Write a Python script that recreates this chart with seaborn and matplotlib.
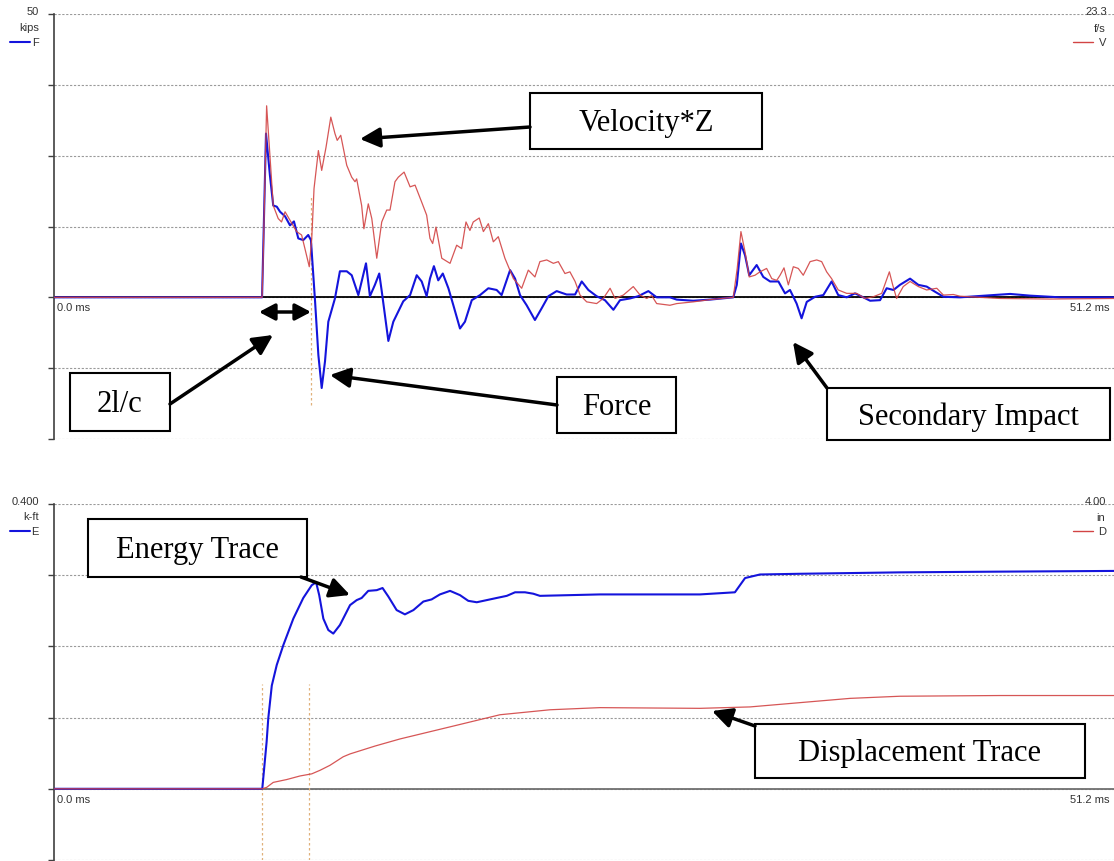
import numpy as np
import pandas as pd
import matplotlib
matplotlib.use("Agg")
import matplotlib.pyplot as plt
import seaborn as sns
from matplotlib.patches import Rectangle, FancyArrowPatch

# ---------------- data (time in ms) ----------------
force_t = [0.0, 10.05, 10.24, 10.43, 10.59, 10.76, 10.92, 11.16, 11.40, 11.59, 11.80, 12.04,
           12.28, 12.41, 12.61, 12.77, 12.93, 13.09, 13.25, 13.57, 13.81, 14.14, 14.38, 14.70,
           14.86, 15.07, 15.26, 15.50, 15.71, 15.83, 16.15, 16.39, 16.87, 17.20, 17.52, 17.76,
           18.00, 18.16, 18.35, 18.56, 18.78, 19.05, 19.29, 19.61, 19.85, 20.18, 20.58, 20.98,
           21.38, 21.62, 22.03, 22.27, 22.51, 22.83, 23.23, 23.56, 23.88, 24.28, 24.76, 25.17,
           25.49, 25.81, 26.21, 26.61, 27.02, 27.34, 27.82, 28.22, 28.71, 29.11, 29.75, 30.08,
           30.88, 31.69, 32.81, 32.98, 33.18, 33.38, 33.58, 33.94, 34.26, 34.59, 34.99, 35.31,
           35.55, 35.87, 36.11, 36.36, 36.76, 37.16, 37.56, 37.88, 38.29, 38.69, 39.09, 39.42,
           39.90, 40.22, 40.55, 40.86, 41.35, 41.75, 42.15, 42.55, 42.96, 43.76, 46.18, 47.14,
           48.59, 51.2]
force_kips = [0.0, 0.0, 28.9, 21.5, 16.2, 16.0, 15.1, 14.3, 12.7, 13.4, 10.4, 10.1,
              11.0, 10.1, -0.7, -10.2, -16.0, -11.3, -4.3, -0.2, 4.6, 4.6, 3.9, 0.4,
              2.8, 6.0, 0.2, 2.2, 4.2, 1.1, -7.7, -4.3, -0.7, 0.4, 3.9, 2.8,
              0.2, 3.3, 5.5, 3.0, 4.2, 1.6, -1.4, -5.5, -4.3, -0.5, 0.4, 1.6,
              1.3, 0.4, 4.8, 3.3, 0.4, -1.4, -4.0, -1.9, 0.2, 1.1, 0.5, 0.5,
              2.8, 1.3, 0.2, -0.5, -2.2, -0.5, -0.2, 0.2, 1.1, 0.0, 0.0, -0.4,
              -0.6, -0.4, 0.0, 2.2, 9.5, 7.4, 3.9, 5.7, 3.6, 2.8, 2.8, 0.7,
              1.3, -1.1, -3.7, -0.8, 0.1, 0.4, 2.8, 0.4, 0.0, 0.7, 0.0, -0.6,
              -0.5, 1.6, 1.3, 2.2, 3.3, 2.2, 1.9, 1.0, 0.1, 0.0, 0.6, 0.3,
              0.0, 0.0]

vel_t = [0.0, 10.05, 10.11, 10.27, 10.43, 10.59, 10.83, 10.99, 11.16, 11.40, 11.72, 11.96,
         12.12, 12.33, 12.45, 12.56, 12.77, 12.93, 13.14, 13.37, 13.57, 13.68, 13.85, 14.14,
         14.38, 14.54, 14.62, 14.86, 14.97, 15.18, 15.35, 15.59, 15.83, 16.07, 16.23, 16.47,
         16.63, 16.91, 17.20, 17.44, 17.76, 18.00, 18.16, 18.29, 18.45, 18.73, 19.13, 19.45,
         19.69, 19.90, 20.09, 20.25, 20.54, 20.74, 20.98, 21.22, 21.46, 21.78, 22.19, 22.59,
         22.91, 23.23, 23.47, 23.80, 24.12, 24.36, 24.68, 24.92, 25.17, 25.41, 25.73, 26.21,
         26.53, 26.86, 27.10, 27.50, 27.98, 28.31, 28.63, 28.87, 29.11, 29.75, 30.08, 30.88,
         31.69, 32.81, 33.00, 33.18, 33.38, 33.58, 33.86, 34.10, 34.42, 34.67, 34.91, 35.07,
         35.26, 35.47, 35.71, 35.95, 36.19, 36.52, 36.84, 37.08, 37.32, 37.56, 37.88, 38.29,
         38.77, 39.17, 39.57, 39.98, 40.35, 40.51, 40.70, 41.02, 41.35, 41.75, 42.15, 42.64,
         42.96, 43.44, 43.76, 45.69, 48.11, 51.2]
vel_z_kips = [0.0, 0.0, 8.0, 33.8, 25.0, 16.2, 13.9, 13.3, 15.1, 13.6, 11.6, 11.0,
              8.6, 5.4, 10.4, 19.2, 25.9, 22.4, 26.5, 31.8, 28.9, 27.7, 28.6, 23.3,
              21.2, 20.4, 20.9, 16.2, 12.1, 16.5, 13.9, 6.9, 13.3, 15.4, 15.4, 20.4,
              21.2, 22.1, 19.5, 19.8, 16.8, 14.5, 10.4, 9.5, 12.4, 6.9, 6.0, 9.2,
              8.6, 13.3, 11.8, 13.3, 14.0, 11.6, 13.0, 9.8, 10.7, 6.9, 3.3, 1.6,
              4.8, 3.6, 6.3, 6.6, 6.0, 6.3, 4.2, 4.5, 2.8, 0.4, -0.8, -1.1,
              -0.2, 1.6, -0.2, 0.4, 1.9, 0.4, -0.2, 0.3, -1.1, -1.4, -1.1, -0.8,
              -0.4, 0.0, 5.1, 11.6, 8.0, 3.6, 3.9, 4.5, 5.1, 3.3, 3.0, 3.9,
              5.2, 2.2, 5.4, 5.1, 3.9, 6.3, 6.6, 6.3, 4.5, 3.3, 1.3, 0.7,
              0.7, -0.2, 0.1, 0.7, 4.5, 2.2, -0.2, 1.9, 2.8, 1.9, 1.3, 1.6,
              0.4, 0.5, 0.2, -0.2, -0.3, -0.2]

energy_t = [0.0, 10.06, 10.27, 10.35, 10.52, 10.76, 11.08, 11.56, 12.04, 12.45, 12.66, 12.81,
            13.01, 13.25, 13.49, 13.81, 14.30, 14.62, 14.86, 15.18, 15.59, 15.87, 16.15, 16.55,
            16.95, 17.36, 17.84, 18.24, 18.64, 19.13, 19.61, 20.01, 20.42, 20.90, 21.38, 21.87,
            22.27, 22.75, 23.15, 23.47, 26.37, 31.20, 32.89, 33.38, 34.10, 36.03, 38.45, 40.86,
            45.69, 51.2]
energy_kft = [0.0, 0.0, 0.066, 0.099, 0.145, 0.174, 0.202, 0.239, 0.268, 0.286, 0.290, 0.272,
              0.239, 0.223, 0.218, 0.230, 0.258, 0.265, 0.268, 0.278, 0.279, 0.282, 0.270, 0.251,
              0.245, 0.251, 0.263, 0.266, 0.273, 0.278, 0.272, 0.264, 0.262, 0.265, 0.268, 0.271,
              0.276, 0.276, 0.274, 0.271, 0.273, 0.273, 0.276, 0.296, 0.301, 0.302, 0.303, 0.304,
              0.305, 0.306]

disp_t = [0.0, 10.05, 10.27, 10.59, 11.24, 11.88, 12.45, 12.85, 13.33, 13.97, 14.30, 15.50,
          16.71, 19.13, 21.54, 23.96, 26.37, 31.20, 33.62, 36.03, 38.45, 40.86, 45.69, 51.2]
disp_in = [0.0, 0.0, 0.02, 0.09, 0.13, 0.18, 0.21, 0.26, 0.33, 0.45, 0.49, 0.60,
           0.70, 0.87, 1.04, 1.11, 1.14, 1.13, 1.15, 1.21, 1.27, 1.30, 1.31, 1.31]

top_marker_times = [12.41]
bottom_marker_times = [10.05, 12.33]

# ---------------- figure ----------------
sns.set_style("white")
plt.rcParams['font.family'] = ['Liberation Sans', 'DejaVu Sans']

W, H = 1114, 862
fig = plt.figure(figsize=(W / 100, H / 100), dpi=100)


def px_axes(left, top, right, bottom):
    return fig.add_axes([left / W, 1 - bottom / H, (right - left) / W, (bottom - top) / H])


def style(ax, ymin, ymax, step, zero_color):
    ax.set_xlim(0, 51.2)
    ax.set_ylim(ymin, ymax)
    ax.set_yticks(np.arange(ymin, ymax + step / 2, step))
    ax.set_xticks([])
    ax.tick_params(axis='y', left=True, length=4, color='#404040', labelleft=False, width=1)
    ax.grid(axis='y', color='#9a9a9a', linestyle=(0, (2, 1.5)), linewidth=0.8)
    ax.grid(axis='x', visible=False)
    for s in ['top', 'right', 'bottom']:
        ax.spines[s].set_visible(False)
    ax.spines['left'].set_color('#404040')
    ax.spines['left'].set_linewidth(1.2)
    ax.axhline(0, color=zero_color, lw=1.3, zorder=1)
    ax.set_xlabel('')
    ax.set_ylabel('')
    ax.set_facecolor('white')


ax1 = px_axes(54, 15, 1114, 440)
ax2 = px_axes(54, 505, 1114, 861)

df_f = pd.DataFrame({"t": force_t, "v": force_kips})
df_v = pd.DataFrame({"t": vel_t, "v": vel_z_kips})
df_e = pd.DataFrame({"t": energy_t, "v": energy_kft})
df_d = pd.DataFrame({"t": disp_t, "v": disp_in})

BLUE = '#1414dc'
RED = '#d24444'

sns.lineplot(data=df_f, x="t", y="v", ax=ax1, color=BLUE, linewidth=1.5, sort=False, estimator=None, zorder=3)
sns.lineplot(data=df_v, x="t", y="v", ax=ax1, color=RED, linewidth=0.9, alpha=0.9, sort=False, estimator=None, zorder=4)
sns.lineplot(data=df_e, x="t", y="v", ax=ax2, color=BLUE, linewidth=1.5, sort=False, estimator=None, zorder=3)
# displacement on its own scale (1 in per 0.1 k-ft division)
ax2b = ax2.twinx()
ax2b.axis('off')
sns.lineplot(data=df_d, x="t", y="v", ax=ax2b, color=RED, linewidth=0.9, alpha=0.9, sort=False, estimator=None, zorder=4)
ax2b.set_xlim(0, 51.2)

style(ax1, -25, 50, 12.5, 'black')
style(ax2, -0.1, 0.4, 0.1, '#707070')
ax2b.set_ylim(-1, 4)

for t in top_marker_times:
    ax1.axvline(t, ymin=0.08, ymax=0.575, color='#e0b07a', lw=0.9, linestyle=(0, (2, 2)), zorder=2)
for t in bottom_marker_times:
    ax2.axvline(t, ymin=0.0, ymax=0.495, color='#e0b07a', lw=0.9, linestyle=(0, (2, 2)), zorder=2)

# ---------------- overlay in pixel coordinates ----------------
ov = fig.add_axes([0, 0, 1, 1])
ov.set_xlim(0, W)
ov.set_ylim(H, 0)
ov.axis('off')
ov.patch.set_alpha(0)

lab = dict(fontsize=8, color='#333333')
ov.text(39, 12, "50", ha='right', va='center', **lab)
ov.text(39, 28, "kips", ha='right', va='center', **lab)
ov.plot([10, 30], [43, 43], color=BLUE, lw=1.5)
ov.text(39, 43, "F", ha='right', va='center', **lab)
ov.text(1107, 12, "23.3", ha='right', va='center', **lab)
ov.text(1106, 29, "f/s", ha='right', va='center', **lab)
ov.plot([1073, 1093], [43, 43], color=RED, lw=1.0)
ov.text(1106, 43, "V", ha='right', va='center', **lab)

ov.text(39, 502, "0.400", ha='right', va='center', **lab)
ov.text(39, 517, "k-ft", ha='right', va='center', **lab)
ov.plot([10, 30], [532, 532], color=BLUE, lw=1.5)
ov.text(39, 532, "E", ha='right', va='center', **lab)
ov.text(1106, 502, "4.00", ha='right', va='center', **lab)
ov.text(1105, 518, "in", ha='right', va='center', **lab)
ov.plot([1073, 1093], [532, 532], color=RED, lw=1.0)
ov.text(1106, 532, "D", ha='right', va='center', **lab)

ov.text(57, 308, "0.0 ms", ha='left', va='center', **lab)
ov.text(1110, 308, "51.2 ms", ha='right', va='center', **lab)
ov.text(57, 800, "0.0 ms", ha='left', va='center', **lab)
ov.text(1110, 800, "51.2 ms", ha='right', va='center', **lab)

boxes = [("Velocity*Z", 530, 94, 762, 150),
         ("2l/c", 70, 374, 170, 432),
         ("Force", 557, 378, 676, 434),
         ("Secondary Impact", 827, 389, 1110, 441),
         ("Energy Trace", 88, 520, 307, 578),
         ("Displacement Trace", 755, 725, 1085, 779)]
for txt, l, t, r, b in boxes:
    ov.add_patch(Rectangle((l, t), r - l, b - t, fc='white', ec='black', lw=1.5, zorder=5))
    ov.text((l + r) / 2, (t + b) / 2 + 2, txt, ha='center', va='center', fontsize=22,
            family='Liberation Serif', color='black', zorder=6)

arrows = [((530, 128), (360, 140)),
          ((170, 405), (273, 336)),
          ((557, 406), (330, 376)),
          ((827, 389), (793, 343)),
          ((301, 578), (350, 596)),
          ((755, 727), (712, 712))]
for p0, p1 in arrows:
    ov.add_patch(FancyArrowPatch(p0, p1, arrowstyle='-|>,head_length=1.0,head_width=0.5',
                                 mutation_scale=12, lw=2.5, color='black', shrinkA=0, shrinkB=0, zorder=7))
ov.add_patch(FancyArrowPatch((259, 313), (311, 313), arrowstyle='<|-|>,head_length=0.95,head_width=0.5',
                             mutation_scale=10, lw=2.5, color='black', shrinkA=0, shrinkB=0, zorder=7))

fig.savefig("out.png", dpi=100)
